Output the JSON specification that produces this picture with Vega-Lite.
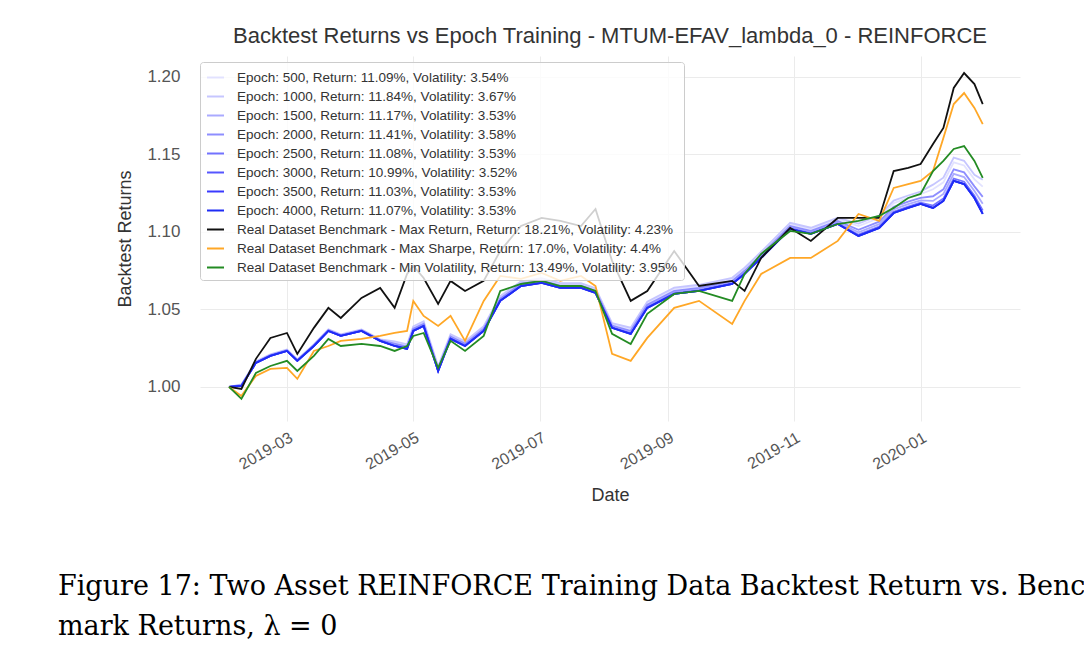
{
  "$schema": "https://vega.github.io/schema/vega-lite/v6.json",
  "background": "white",
  "padding": {"left": 58, "top": 25, "right": 5, "bottom": 5},
  "spacing": 34,
  "config": {"font": "Liberation Sans", "view": {"stroke": null}},
  "datasets": {
    "labels": [
      {"key": "e05", "label": "Epoch: 500, Return: 11.09%, Volatility: 3.54%"},
      {"key": "e1", "label": "Epoch: 1000, Return: 11.84%, Volatility: 3.67%"},
      {"key": "e15", "label": "Epoch: 1500, Return: 11.17%, Volatility: 3.53%"},
      {"key": "e2", "label": "Epoch: 2000, Return: 11.41%, Volatility: 3.58%"},
      {"key": "e25", "label": "Epoch: 2500, Return: 11.08%, Volatility: 3.53%"},
      {"key": "e3", "label": "Epoch: 3000, Return: 10.99%, Volatility: 3.52%"},
      {"key": "e35", "label": "Epoch: 3500, Return: 11.03%, Volatility: 3.53%"},
      {"key": "b", "label": "Epoch: 4000, Return: 11.07%, Volatility: 3.53%"},
      {"key": "k", "label": "Real Dataset Benchmark - Max Return, Return: 18.21%, Volatility: 4.23%"},
      {"key": "o", "label": "Real Dataset Benchmark - Max Sharpe, Return: 17.0%, Volatility: 4.4%"},
      {"key": "g", "label": "Real Dataset Benchmark - Min Volatility, Return: 13.49%, Volatility: 3.95%"}
    ],
    "series": [
      {"d": "2019-02-01", "k": 1.0, "o": 1.0, "g": 1.0, "b": 1.0, "e1": 1.0, "e05": 1.0, "e2": 1.0, "e15": 1.0, "e25": 1.0, "e3": 1.0, "e35": 1.0},
      {"d": "2019-02-07", "k": 0.9987, "o": 0.9942, "g": 0.9923, "b": 1.0006, "e1": 1.0016, "e05": 1.0014, "e2": 1.0011, "e15": 1.0009, "e25": 1.0007, "e3": 1.0006, "e35": 1.0006},
      {"d": "2019-02-14", "k": 1.0181, "o": 1.0071, "g": 1.0090, "b": 1.0155, "e1": 1.0165, "e05": 1.0163, "e2": 1.0160, "e15": 1.0158, "e25": 1.0156, "e3": 1.0155, "e35": 1.0155},
      {"d": "2019-02-21", "k": 1.0316, "o": 1.0116, "g": 1.0135, "b": 1.0200, "e1": 1.0210, "e05": 1.0208, "e2": 1.0205, "e15": 1.0203, "e25": 1.0201, "e3": 1.0200, "e35": 1.0200},
      {"d": "2019-03-01", "k": 1.0348, "o": 1.0123, "g": 1.0168, "b": 1.0232, "e1": 1.0242, "e05": 1.0240, "e2": 1.0237, "e15": 1.0235, "e25": 1.0233, "e3": 1.0232, "e35": 1.0232},
      {"d": "2019-03-06", "k": 1.0213, "o": 1.0052, "g": 1.0103, "b": 1.0168, "e1": 1.0178, "e05": 1.0176, "e2": 1.0173, "e15": 1.0171, "e25": 1.0169, "e3": 1.0168, "e35": 1.0168},
      {"d": "2019-03-14", "k": 1.0381, "o": 1.0232, "g": 1.0200, "b": 1.0264, "e1": 1.0274, "e05": 1.0272, "e2": 1.0269, "e15": 1.0267, "e25": 1.0265, "e3": 1.0264, "e35": 1.0264},
      {"d": "2019-03-21", "k": 1.0510, "o": 1.0264, "g": 1.0310, "b": 1.0361, "e1": 1.0371, "e05": 1.0369, "e2": 1.0366, "e15": 1.0364, "e25": 1.0362, "e3": 1.0361, "e35": 1.0361},
      {"d": "2019-03-27", "k": 1.0445, "o": 1.0297, "g": 1.0264, "b": 1.0329, "e1": 1.0339, "e05": 1.0337, "e2": 1.0334, "e15": 1.0332, "e25": 1.0330, "e3": 1.0329, "e35": 1.0329},
      {"d": "2019-04-06", "k": 1.0574, "o": 1.0310, "g": 1.0277, "b": 1.0361, "e1": 1.0371, "e05": 1.0369, "e2": 1.0366, "e15": 1.0364, "e25": 1.0362, "e3": 1.0361, "e35": 1.0361},
      {"d": "2019-04-15", "k": 1.0639, "o": 1.0329, "g": 1.0264, "b": 1.0297, "e1": 1.0307, "e05": 1.0305, "e2": 1.0302, "e15": 1.0300, "e25": 1.0298, "e3": 1.0297, "e35": 1.0297},
      {"d": "2019-04-22", "k": 1.0510, "o": 1.0348, "g": 1.0232, "b": 1.0264, "e1": 1.0294, "e05": 1.0288, "e2": 1.0279, "e15": 1.0273, "e25": 1.0267, "e3": 1.0264, "e35": 1.0264},
      {"d": "2019-04-28", "k": 1.0729, "o": 1.0361, "g": 1.0264, "b": 1.0245, "e1": 1.0275, "e05": 1.0269, "e2": 1.0260, "e15": 1.0254, "e25": 1.0248, "e3": 1.0245, "e35": 1.0245},
      {"d": "2019-05-01", "k": 1.0780, "o": 1.0555, "g": 1.0329, "b": 1.0361, "e1": 1.0391, "e05": 1.0385, "e2": 1.0376, "e15": 1.0370, "e25": 1.0364, "e3": 1.0361, "e35": 1.0361},
      {"d": "2019-05-06", "k": 1.0703, "o": 1.0458, "g": 1.0348, "b": 1.0393, "e1": 1.0423, "e05": 1.0417, "e2": 1.0408, "e15": 1.0402, "e25": 1.0396, "e3": 1.0393, "e35": 1.0393},
      {"d": "2019-05-13", "k": 1.0535, "o": 1.0393, "g": 1.0123, "b": 1.0103, "e1": 1.0133, "e05": 1.0127, "e2": 1.0118, "e15": 1.0112, "e25": 1.0106, "e3": 1.0103, "e35": 1.0103},
      {"d": "2019-05-19", "k": 1.0684, "o": 1.0458, "g": 1.0297, "b": 1.0310, "e1": 1.0340, "e05": 1.0334, "e2": 1.0325, "e15": 1.0319, "e25": 1.0313, "e3": 1.0310, "e35": 1.0310},
      {"d": "2019-05-26", "k": 1.0619, "o": 1.0297, "g": 1.0232, "b": 1.0264, "e1": 1.0294, "e05": 1.0288, "e2": 1.0279, "e15": 1.0273, "e25": 1.0267, "e3": 1.0264, "e35": 1.0264},
      {"d": "2019-06-04", "k": 1.0684, "o": 1.0555, "g": 1.0329, "b": 1.0361, "e1": 1.0391, "e05": 1.0385, "e2": 1.0376, "e15": 1.0370, "e25": 1.0364, "e3": 1.0361, "e35": 1.0361},
      {"d": "2019-06-12", "k": 1.0877, "o": 1.0716, "g": 1.0619, "b": 1.0555, "e1": 1.0585, "e05": 1.0579, "e2": 1.0570, "e15": 1.0564, "e25": 1.0558, "e3": 1.0555, "e35": 1.0555},
      {"d": "2019-06-22", "k": 1.1038, "o": 1.0697, "g": 1.0664, "b": 1.0651, "e1": 1.0681, "e05": 1.0675, "e2": 1.0666, "e15": 1.0660, "e25": 1.0654, "e3": 1.0651, "e35": 1.0651},
      {"d": "2019-07-02", "k": 1.1090, "o": 1.0735, "g": 1.0684, "b": 1.0671, "e1": 1.0701, "e05": 1.0695, "e2": 1.0686, "e15": 1.0680, "e25": 1.0674, "e3": 1.0671, "e35": 1.0671},
      {"d": "2019-07-11", "k": 1.1071, "o": 1.0684, "g": 1.0651, "b": 1.0639, "e1": 1.0669, "e05": 1.0663, "e2": 1.0654, "e15": 1.0648, "e25": 1.0642, "e3": 1.0639, "e35": 1.0639},
      {"d": "2019-07-21", "k": 1.1038, "o": 1.0716, "g": 1.0651, "b": 1.0639, "e1": 1.0669, "e05": 1.0663, "e2": 1.0654, "e15": 1.0648, "e25": 1.0642, "e3": 1.0639, "e35": 1.0639},
      {"d": "2019-07-28", "k": 1.1148, "o": 1.0651, "g": 1.0619, "b": 1.0606, "e1": 1.0636, "e05": 1.0630, "e2": 1.0621, "e15": 1.0615, "e25": 1.0609, "e3": 1.0606, "e35": 1.0606},
      {"d": "2019-08-05", "k": 1.0813, "o": 1.0213, "g": 1.0342, "b": 1.0381, "e1": 1.0411, "e05": 1.0405, "e2": 1.0396, "e15": 1.0390, "e25": 1.0384, "e3": 1.0381, "e35": 1.0381},
      {"d": "2019-08-14", "k": 1.0555, "o": 1.0168, "g": 1.0277, "b": 1.0342, "e1": 1.0382, "e05": 1.0374, "e2": 1.0362, "e15": 1.0354, "e25": 1.0346, "e3": 1.0342, "e35": 1.0342},
      {"d": "2019-08-22", "k": 1.0619, "o": 1.0316, "g": 1.0471, "b": 1.0510, "e1": 1.0550, "e05": 1.0542, "e2": 1.0530, "e15": 1.0522, "e25": 1.0514, "e3": 1.0510, "e35": 1.0510},
      {"d": "2019-09-04", "k": 1.0877, "o": 1.0510, "g": 1.0600, "b": 1.0600, "e1": 1.0640, "e05": 1.0632, "e2": 1.0620, "e15": 1.0612, "e25": 1.0604, "e3": 1.0600, "e35": 1.0600},
      {"d": "2019-09-16", "k": 1.0651, "o": 1.0555, "g": 1.0619, "b": 1.0619, "e1": 1.0659, "e05": 1.0651, "e2": 1.0639, "e15": 1.0631, "e25": 1.0623, "e3": 1.0619, "e35": 1.0619},
      {"d": "2019-10-02", "k": 1.0684, "o": 1.0406, "g": 1.0555, "b": 1.0664, "e1": 1.0704, "e05": 1.0696, "e2": 1.0684, "e15": 1.0676, "e25": 1.0668, "e3": 1.0664, "e35": 1.0664},
      {"d": "2019-10-08", "k": 1.0619, "o": 1.0555, "g": 1.0729, "b": 1.0729, "e1": 1.0769, "e05": 1.0761, "e2": 1.0749, "e15": 1.0741, "e25": 1.0733, "e3": 1.0729, "e35": 1.0729},
      {"d": "2019-10-16", "k": 1.0832, "o": 1.0729, "g": 1.0858, "b": 1.0832, "e1": 1.0872, "e05": 1.0864, "e2": 1.0852, "e15": 1.0844, "e25": 1.0836, "e3": 1.0832, "e35": 1.0832},
      {"d": "2019-10-30", "k": 1.1026, "o": 1.0832, "g": 1.1006, "b": 1.1019, "e1": 1.1059, "e05": 1.1051, "e2": 1.1039, "e15": 1.1031, "e25": 1.1023, "e3": 1.1019, "e35": 1.1019},
      {"d": "2019-11-09", "k": 1.0942, "o": 1.0832, "g": 1.0987, "b": 1.0987, "e1": 1.1027, "e05": 1.1019, "e2": 1.1007, "e15": 1.0999, "e25": 1.0991, "e3": 1.0987, "e35": 1.0987},
      {"d": "2019-11-22", "k": 1.1090, "o": 1.0942, "g": 1.1051, "b": 1.1051, "e1": 1.1091, "e05": 1.1083, "e2": 1.1071, "e15": 1.1063, "e25": 1.1055, "e3": 1.1051, "e35": 1.1051},
      {"d": "2019-12-02", "k": 1.1090, "o": 1.1116, "g": 1.1071, "b": 1.0974, "e1": 1.1054, "e05": 1.1038, "e2": 1.1014, "e15": 1.0998, "e25": 1.0982, "e3": 1.0974, "e35": 1.0974},
      {"d": "2019-12-12", "k": 1.1090, "o": 1.1071, "g": 1.1103, "b": 1.1026, "e1": 1.1106, "e05": 1.1090, "e2": 1.1066, "e15": 1.1050, "e25": 1.1034, "e3": 1.1026, "e35": 1.1026},
      {"d": "2019-12-19", "k": 1.1393, "o": 1.1284, "g": 1.1155, "b": 1.1122, "e1": 1.1202, "e05": 1.1186, "e2": 1.1162, "e15": 1.1146, "e25": 1.1130, "e3": 1.1122, "e35": 1.1122},
      {"d": "2019-12-26", "k": 1.1413, "o": 1.1309, "g": 1.1219, "b": 1.1155, "e1": 1.1235, "e05": 1.1219, "e2": 1.1195, "e15": 1.1179, "e25": 1.1163, "e3": 1.1155, "e35": 1.1155},
      {"d": "2020-01-01", "k": 1.1438, "o": 1.1329, "g": 1.1245, "b": 1.1180, "e1": 1.1260, "e05": 1.1244, "e2": 1.1220, "e15": 1.1204, "e25": 1.1188, "e3": 1.1180, "e35": 1.1180},
      {"d": "2020-01-07", "k": 1.1567, "o": 1.1393, "g": 1.1393, "b": 1.1155, "e1": 1.1305, "e05": 1.1275, "e2": 1.1230, "e15": 1.1200, "e25": 1.1170, "e3": 1.1155, "e35": 1.1155},
      {"d": "2020-01-12", "k": 1.1671, "o": 1.1606, "g": 1.1458, "b": 1.1200, "e1": 1.1350, "e05": 1.1320, "e2": 1.1275, "e15": 1.1245, "e25": 1.1215, "e3": 1.1200, "e35": 1.1200},
      {"d": "2020-01-17", "k": 1.1929, "o": 1.1825, "g": 1.1535, "b": 1.1329, "e1": 1.1479, "e05": 1.1449, "e2": 1.1404, "e15": 1.1374, "e25": 1.1344, "e3": 1.1329, "e35": 1.1329},
      {"d": "2020-01-22", "k": 1.2025, "o": 1.1896, "g": 1.1554, "b": 1.1309, "e1": 1.1459, "e05": 1.1429, "e2": 1.1384, "e15": 1.1354, "e25": 1.1324, "e3": 1.1309, "e35": 1.1309},
      {"d": "2020-01-27", "k": 1.1954, "o": 1.1800, "g": 1.1458, "b": 1.1219, "e1": 1.1369, "e05": 1.1339, "e2": 1.1294, "e15": 1.1264, "e25": 1.1234, "e3": 1.1219, "e35": 1.1219},
      {"d": "2020-01-31", "k": 1.1825, "o": 1.1696, "g": 1.1348, "b": 1.1116, "e1": 1.1336, "e05": 1.1292, "e2": 1.1226, "e15": 1.1182, "e25": 1.1138, "e3": 1.1116, "e35": 1.1116}
    ],
    "caption": [
      {"t": "Figure 17: Two Asset REINFORCE Training Data Backtest Return vs. Bench-\nmark Returns, λ = 0"}
    ]
  },
  "vconcat": [
    {
      "title": {"text": "Backtest Returns vs Epoch Training - MTUM-EFAV_lambda_0 - REINFORCE", "fontSize": 22, "fontWeight": "normal", "color": "#333333", "offset": 8},
      "width": 820,
      "height": 365,
      "data": {"name": "series"},
      "transform": [
        {"fold": ["e05", "e1", "e15", "e2", "e25", "e3", "e35", "b", "k", "o", "g"], "as": ["key", "value"]},
        {"lookup": "key", "from": {"data": {"name": "labels"}, "key": "key", "fields": ["label"]}}
      ],
      "mark": {"type": "line", "strokeWidth": 1.8},
      "encoding": {
        "x": {
          "field": "d", "type": "temporal", "title": "Date",
          "scale": {"domain": ["2019-01-18", "2020-02-18"]},
          "axis": {
            "values": ["2019-03-01", "2019-05-01", "2019-07-01", "2019-09-01", "2019-11-01", "2020-01-01"],
            "format": "%Y-%m", "labelAngle": -30, "labelAlign": "right", "labelBaseline": "top",
            "labelFontSize": 16, "labelColor": "#555555", "ticks": false, "domain": false,
            "gridColor": "#ebebeb", "labelPadding": 8, "titleFontSize": 18, "titleFontWeight": "normal",
            "titleColor": "#333333", "titlePadding": 14
          }
        },
        "y": {
          "field": "value", "type": "quantitative", "title": "Backtest Returns",
          "scale": {"domain": [0.978, 1.2135], "nice": false, "zero": false},
          "axis": {
            "values": [1.0, 1.05, 1.1, 1.15, 1.2], "format": ".2f",
            "labelFontSize": 17, "labelColor": "#555555", "ticks": false, "domain": false,
            "gridColor": "#ebebeb", "labelPadding": 20, "titleFontSize": 18, "titleFontWeight": "normal",
            "titleColor": "#333333", "titlePadding": 12
          }
        },
        "color": {
          "field": "label", "type": "nominal", "title": null,
          "sort": null,
          "scale": {
            "domain": [
              "Epoch: 500, Return: 11.09%, Volatility: 3.54%",
              "Epoch: 1000, Return: 11.84%, Volatility: 3.67%",
              "Epoch: 1500, Return: 11.17%, Volatility: 3.53%",
              "Epoch: 2000, Return: 11.41%, Volatility: 3.58%",
              "Epoch: 2500, Return: 11.08%, Volatility: 3.53%",
              "Epoch: 3000, Return: 10.99%, Volatility: 3.52%",
              "Epoch: 3500, Return: 11.03%, Volatility: 3.53%",
              "Epoch: 4000, Return: 11.07%, Volatility: 3.53%",
              "Real Dataset Benchmark - Max Return, Return: 18.21%, Volatility: 4.23%",
              "Real Dataset Benchmark - Max Sharpe, Return: 17.0%, Volatility: 4.4%",
              "Real Dataset Benchmark - Min Volatility, Return: 13.49%, Volatility: 3.95%"
            ],
            "range": ["#e2e2ff", "#c6c6ff", "#aaaaff", "#8e8eff", "#7272ff", "#5656ff", "#3a3aff", "#1e2cf5", "#111111", "#ffa726", "#238b23"]
          },
          "legend": {
            "orient": "none", "legendX": 0, "legendY": 6,
            "symbolType": "stroke", "symbolSize": 289, "symbolStrokeWidth": 2,
            "labelFontSize": 13.5, "labelColor": "#333333", "labelLimit": 700, "labelOffset": 12,
            "rowPadding": 3, "padding": 6, "fillColor": "rgba(255,255,255,0.8)",
            "strokeColor": "#cccccc", "cornerRadius": 3
          }
        }
      }
    },
    {
      "width": 820,
      "height": 70,
      "data": {"name": "caption"},
      "mark": {"type": "text", "font": "DejaVu Serif", "fontSize": 27, "align": "left", "baseline": "top", "lineBreak": "\n", "lineHeight": 40, "dx": -552, "color": "#000000"},
      "encoding": {"text": {"field": "t"}}
    }
  ]
}
